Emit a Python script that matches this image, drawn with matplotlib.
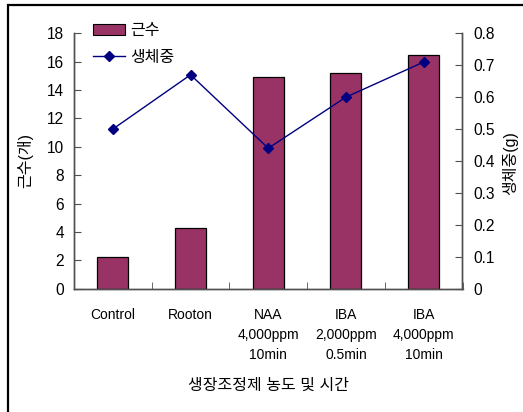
import matplotlib
matplotlib.use("Agg")
import matplotlib.pyplot as plt
from matplotlib.patches import Rectangle, Patch
from matplotlib.lines import Line2D
import numpy as np

plt.rcParams['font.family'] = ['Liberation Sans', 'Noto Sans CJK KR', 'DejaVu Sans']
plt.rcParams['font.size'] = 10

categories = ["Control", "Rooton", "NAA\n4,000ppm\n10min", "IBA\n2,000ppm\n0.5min", "IBA\n4,000ppm\n10min"]
root_counts = [2.2, 4.25, 14.9, 15.2, 16.5]
fresh_weight = [0.50, 0.67, 0.44, 0.60, 0.71]
left_ticks = list(range(0, 20, 2))
right_ticks = [0, 0.1, 0.2, 0.3, 0.4, 0.5, 0.6, 0.7, 0.8]
right_tick_labels = ["0", "0.1", "0.2", "0.3", "0.4", "0.5", "0.6", "0.7", "0.8"]

W, H = 523, 412
fig = plt.figure(figsize=(W / 100, H / 100), dpi=100)
ax = fig.add_axes([74 / W, 1 - 288.7 / H, (462.5 - 74) / W, (288.7 - 33.3) / H])
ax2 = ax.twinx()

x = np.arange(len(categories))
bar_color = "#993366"
line_color = "#000080"
spine_color = "#505050"

ax.bar(x, root_counts, width=0.40, color=bar_color, edgecolor="black", linewidth=0.9, zorder=2)
ax2.plot(x, fresh_weight, color=line_color, linewidth=1.0, marker="D", markersize=4.6,
         markerfacecolor=line_color, markeredgecolor=line_color)

ax.set_xlim(-0.5, len(categories) - 0.5)
ax.set_ylim(0, 18)
ax2.set_ylim(0, 0.8)

ax.set_yticks(left_ticks)
ax.set_yticklabels([str(t) for t in left_ticks], fontsize=11.2)
ax2.set_yticks(right_ticks)
ax2.set_yticklabels(right_tick_labels, fontsize=11.2)

ax.set_xticks(x)
ax.set_xticklabels(categories, linespacing=1.55, fontsize=10)
ax.set_xticks(np.arange(-0.5, len(categories), 1.0), minor=True)
ax.tick_params(axis="x", which="major", length=0, pad=14)
ax.tick_params(axis="x", which="minor", direction="in", length=5, color=spine_color)
ax.tick_params(axis="y", direction="in", length=5, color=spine_color, pad=7)
ax2.tick_params(axis="y", direction="in", length=5, color=spine_color, pad=8)

for a in (ax, ax2):
    a.spines["top"].set_visible(False)
    for s in ("left", "right", "bottom"):
        a.spines[s].set_color(spine_color)
        a.spines[s].set_linewidth(1.0)

fig.text(25 / W, 1 - 160 / H, "근수(개)", rotation=90, ha="center", va="center", fontsize=11.5)
fig.text(510 / W, 1 - 163 / H, "생체중(g)", rotation=90, ha="center", va="center", fontsize=11.5)
fig.text(268 / W, 1 - 385 / H, "생장조정제 농도 및 시간", ha="center", va="center", fontsize=11.5)

handles = [Patch(facecolor=bar_color, edgecolor="black", linewidth=0.8),
           Line2D([0], [0], color=line_color, linewidth=1.0, marker="D", markersize=4.6)]
fig.legend(handles, ["근수", "생체중"], loc="upper left",
           bbox_to_anchor=(93 / W, 1 - 23 / H), frameon=False, borderpad=0,
           borderaxespad=0, handlelength=2.0, handletextpad=0.3, labelspacing=0.75,
           fontsize=11.5)

# outer chart border (right and bottom edges fall outside the canvas)
frame = Rectangle((8 / W, -0.2), 1.2, 0.2 + 1 - 5 / H, transform=fig.transFigure,
                  fill=False, edgecolor="black", linewidth=1.6, clip_on=False)
fig.patches.append(frame)

fig.savefig("out.png", dpi=100)
